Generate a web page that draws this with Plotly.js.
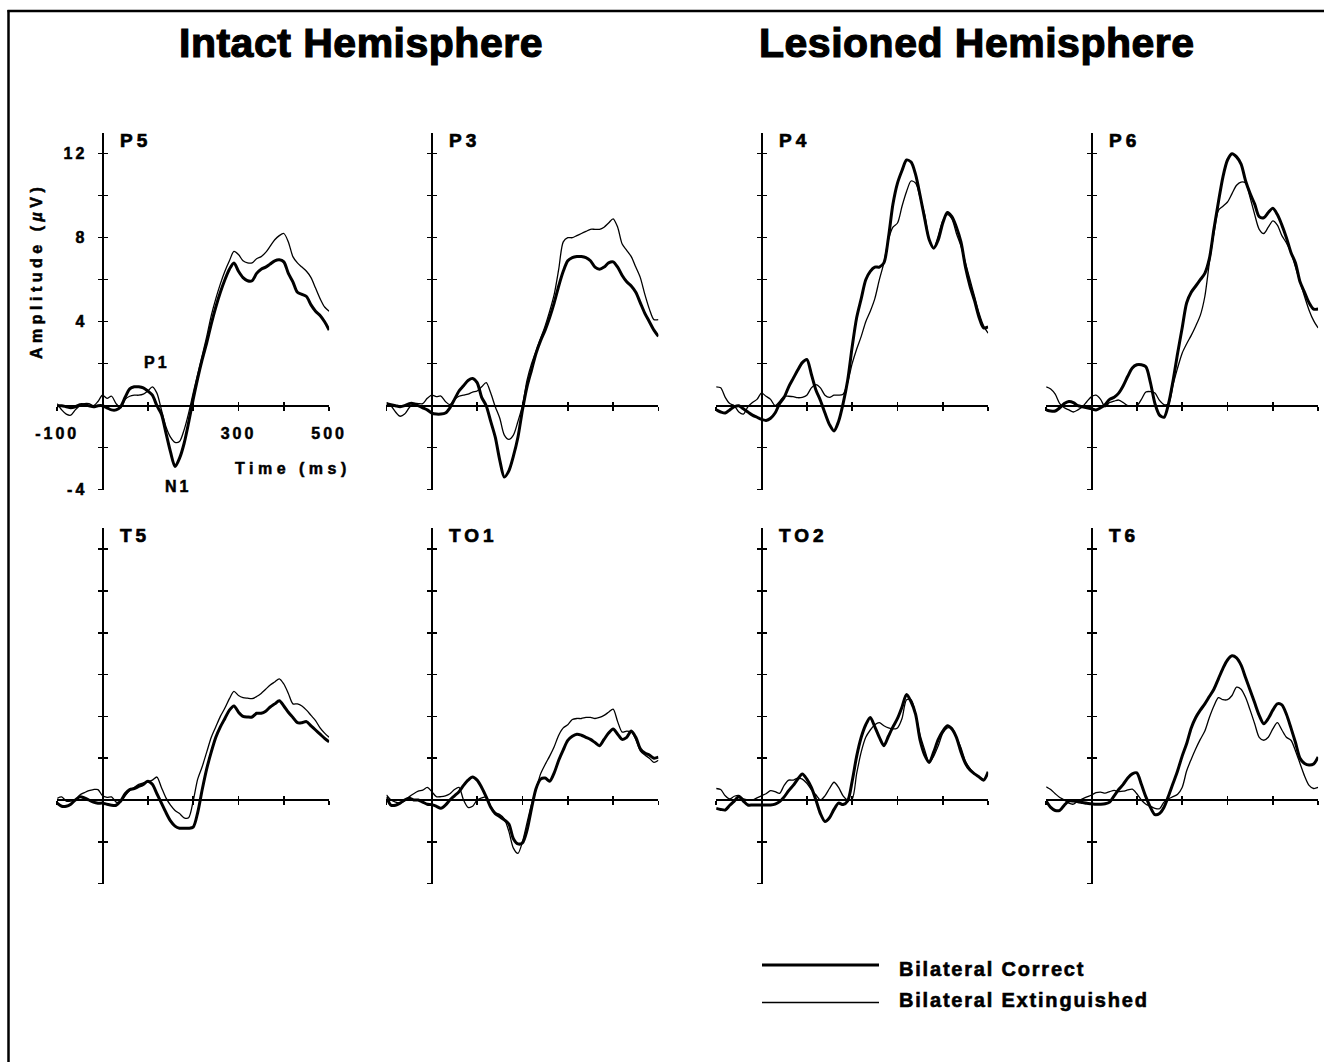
<!DOCTYPE html>
<html>
<head>
<meta charset="utf-8">
<script src="https://cdn.plot.ly/plotly-3.0.1.min.js"></script>
<style>html,body{margin:0;padding:0;background:#fff;}</style>
</head>
<body>
<div id="chart" style="width:1324px;height:1062px;"></div>
<script>
// ---------------- DATA ----------------
const timeMs = [-100,-90,-80,-70,-60,-50,-40,-30,-20,-10,
  0,10,20,30,40,50,60,70,80,90,
  100,110,120,130,140,150,160,170,180,190,
  200,210,220,230,240,250,260,270,280,290,
  300,310,320,330,340,350,360,370,380,390,
  400,410,420,430,440,450,460,470,480,490,500];

const seriesNames = ['Bilateral Correct', 'Bilateral Extinguished'];
const hemisphereTitles = ['Intact Hemisphere', 'Lesioned Hemisphere'];
const channelNames = ['P5', 'P3', 'P4', 'P6', 'T5', 'TO1', 'TO2', 'T6'];

const xTickVals = [-100, 100, 200, 300, 400, 500];
const xTickLabels = ['-100', '', '', '300', '', '500'];
const yTickVals = [-4, -2, 2, 4, 6, 8, 10, 12];
const yTickLabels = ['-4', '', '', '4', '', '8', '', '12'];

const p5Correct = [0.0,0.0,-0.05,-0.1,-0.05,0.05,0.05,0.0,-0.05,0.0,
  0.0,-0.1,-0.2,-0.2,-0.05,0.4,0.8,0.9,0.9,0.85,
  0.7,0.5,0.0,-0.4,-1.3,-2.2,-2.9,-2.5,-1.8,-0.8,
  0.3,1.3,2.2,3.0,3.9,4.7,5.4,6.0,6.5,6.8,
  6.4,6.1,5.95,5.95,6.3,6.5,6.6,6.75,6.9,6.95,
  6.85,6.3,5.9,5.4,5.3,5.2,4.8,4.5,4.3,4.0,3.6];
const p5Extinguished = [0.1,-0.2,-0.4,-0.45,-0.2,0.0,0.1,0.1,0.0,0.2,
  0.5,0.35,0.45,0.1,-0.1,0.3,0.45,0.5,0.5,0.55,
  0.7,0.9,0.6,-0.2,-1.0,-1.5,-1.75,-1.7,-1.15,-0.35,
  0.6,1.5,2.4,3.3,4.3,5.1,5.8,6.4,6.9,7.35,
  7.2,6.9,6.8,6.8,7.0,7.1,7.3,7.6,7.9,8.1,
  8.2,7.8,7.1,6.8,6.6,6.4,6.1,5.6,5.1,4.7,4.5];

const p3Correct = [0.1,0.05,0.0,-0.05,0.0,0.1,0.1,0.0,-0.1,-0.2,
  -0.35,-0.4,-0.4,-0.35,-0.1,0.3,0.7,0.95,1.2,1.3,
  1.1,0.4,0.0,-0.75,-1.5,-2.6,-3.4,-3.1,-2.4,-1.5,
  -0.2,0.9,1.7,2.5,3.1,3.6,4.2,4.9,5.7,6.4,
  6.9,7.05,7.1,7.1,7.05,6.9,6.6,6.5,6.6,6.8,
  6.85,6.6,6.2,5.9,5.7,5.4,4.9,4.4,4.0,3.6,3.3];
const p3Extinguished = [0.15,0.0,-0.3,-0.5,-0.4,-0.1,0.1,0.1,0.1,0.35,
  0.5,0.43,0.46,0.2,0.05,0.3,0.45,0.5,0.55,0.65,
  0.7,0.9,1.1,0.6,-0.05,-0.6,-1.4,-1.6,-1.4,-0.75,
  0.0,1.2,2.0,2.6,3.2,3.8,4.5,5.3,6.5,7.8,
  8.0,8.0,8.1,8.2,8.3,8.4,8.4,8.4,8.5,8.7,
  8.9,8.5,7.7,7.4,7.1,6.6,6.1,5.3,4.6,4.1,4.1];

const p4Correct = [-0.2,-0.3,-0.35,-0.2,-0.05,0.0,-0.15,-0.3,-0.45,-0.55,
  -0.65,-0.7,-0.6,-0.35,0.1,0.4,0.9,1.3,1.7,2.05,
  2.2,1.5,0.75,0.25,-0.35,-0.9,-1.2,-0.75,0.1,1.2,
  2.8,4.2,5.1,6.0,6.4,6.6,6.6,6.8,8.0,9.6,
  10.6,11.2,11.7,11.6,11.0,10.0,8.9,7.9,7.5,7.9,
  8.7,9.2,9.0,8.5,7.8,6.6,5.7,5.0,4.2,3.7,3.75];
const p4Extinguished = [0.9,0.85,0.4,0.1,0.0,-0.3,-0.4,-0.05,0.15,0.3,
  0.6,0.45,0.3,0.0,0.2,0.45,0.45,0.43,0.38,0.4,
  0.5,0.85,1.0,0.85,0.5,0.4,0.5,0.5,0.55,1.1,
  2.0,2.7,3.3,4.0,4.5,5.1,6.0,6.8,7.9,8.5,
  8.7,9.5,10.2,10.7,10.6,9.9,9.1,7.9,7.5,8.1,
  8.8,9.1,8.9,8.2,7.6,6.8,6.0,5.2,4.4,3.8,3.45];

const p6Correct = [-0.2,-0.25,-0.25,-0.1,0.1,0.2,0.15,0.0,-0.05,-0.1,
  -0.15,-0.2,-0.1,0.05,0.3,0.4,0.6,0.95,1.4,1.8,
  1.95,1.95,1.85,1.1,0.1,-0.45,-0.55,0.1,1.2,2.5,
  3.7,4.9,5.4,5.7,6.0,6.3,7.0,8.4,9.7,10.9,
  11.7,12.0,11.85,11.5,10.7,10.1,9.6,9.0,8.95,9.2,
  9.4,9.1,8.6,8.0,7.3,6.8,5.9,5.4,4.9,4.6,4.6];
const p6Extinguished = [0.9,0.8,0.55,0.1,-0.1,-0.2,-0.3,-0.2,-0.05,0.2,
  0.43,0.5,0.3,-0.05,0.15,0.22,0.27,0.15,0.0,0.0,
  0.0,0.3,0.65,0.67,0.6,0.25,0.05,0.1,1.0,1.8,
  2.5,2.95,3.35,3.8,4.3,5.2,6.8,8.2,9.3,9.5,
  9.7,10.1,10.5,10.65,10.6,9.9,9.1,8.4,8.2,8.5,
  8.8,8.6,8.1,7.75,7.3,6.6,5.9,5.2,4.55,4.05,3.7];

const t5Correct = [-0.15,-0.3,-0.3,-0.2,0.0,0.15,0.1,0.0,-0.1,-0.15,
  -0.15,-0.2,-0.25,-0.25,-0.05,0.3,0.5,0.55,0.65,0.75,
  0.9,0.75,0.3,-0.15,-0.6,-1.0,-1.25,-1.35,-1.35,-1.35,
  -1.3,-0.6,0.5,1.5,2.3,3.0,3.5,3.9,4.3,4.5,
  4.2,4.0,3.97,3.97,4.15,4.15,4.25,4.45,4.6,4.75,
  4.5,4.2,3.95,3.7,3.7,3.75,3.55,3.35,3.15,2.95,2.78];
const t5Extinguished = [0.08,0.15,-0.05,-0.05,0.0,0.24,0.35,0.45,0.5,0.5,
  0.2,0.13,0.15,-0.1,-0.1,0.2,0.45,0.6,0.75,0.82,
  0.87,0.95,1.1,0.6,0.1,-0.25,-0.5,-0.65,-0.85,-0.85,
  -0.05,1.0,1.6,2.3,3.0,3.5,4.0,4.4,4.85,5.2,
  5.0,4.9,4.87,4.85,4.95,5.1,5.3,5.5,5.65,5.8,
  5.55,5.1,4.6,4.6,4.5,4.3,4.05,3.8,3.45,3.2,3.0];

const to1Correct = [0.15,-0.25,-0.25,-0.15,0.0,0.08,0.0,0.0,-0.1,-0.2,
  -0.22,-0.3,-0.4,-0.25,0.0,0.2,0.4,0.7,0.95,1.1,
  0.95,0.6,0.15,-0.35,-0.65,-0.8,-0.95,-1.15,-1.85,-2.1,
  -2.05,-1.45,-0.4,0.55,1.0,1.05,0.9,1.3,1.9,2.4,
  2.85,3.05,3.15,3.1,3.0,2.9,2.75,2.6,2.9,3.2,
  3.4,3.15,2.9,3.0,3.3,3.0,2.45,2.25,2.15,2.0,2.05];
const to1Extinguished = [0.24,0.0,-0.1,-0.15,-0.05,0.15,0.3,0.42,0.47,0.6,
  0.4,0.16,0.16,0.2,0.3,0.5,0.6,0.0,-0.35,-0.3,
  0.0,0.1,0.15,-0.3,-0.6,-0.7,-0.9,-1.5,-2.3,-2.55,
  -2.0,-1.1,-0.2,0.5,1.25,1.7,2.1,2.55,3.1,3.45,
  3.6,3.85,3.9,3.9,3.95,3.95,3.9,3.95,4.05,4.2,
  4.35,3.75,3.25,3.3,3.25,2.9,2.35,2.15,2.0,1.8,1.9];

const to2Correct = [-0.4,-0.45,-0.48,-0.25,-0.05,0.15,-0.05,-0.24,-0.24,-0.24,
  -0.24,-0.24,-0.24,-0.2,-0.08,0.15,0.45,0.7,1.0,1.25,
  1.0,0.6,0.0,-0.65,-1.03,-0.85,-0.45,-0.15,-0.22,-0.05,
  0.9,2.1,3.0,3.6,3.95,3.5,3.0,2.6,3.05,3.5,
  3.9,4.45,5.05,4.7,4.1,2.85,2.15,1.8,2.3,2.9,
  3.3,3.55,3.4,3.0,2.3,1.75,1.43,1.25,1.1,0.95,1.35];
const to2Extinguished = [0.55,0.5,0.2,0.05,0.18,0.22,0.05,0.0,0.0,0.1,
  0.2,0.3,0.45,0.4,0.32,0.7,0.95,0.95,1.05,1.0,
  0.8,0.5,0.25,0.0,0.2,0.55,0.85,0.6,0.2,0.0,
  0.05,1.27,2.3,3.0,3.35,3.6,3.7,3.55,3.45,3.4,
  3.45,3.9,4.8,4.8,4.1,3.1,2.4,1.8,2.1,2.6,
  3.2,3.45,3.45,3.0,2.5,1.85,1.5,1.25,1.1,0.98,1.27];

const t6Correct = [-0.05,-0.35,-0.5,-0.5,-0.25,-0.05,-0.05,-0.08,-0.12,-0.16,
  -0.18,-0.2,-0.2,-0.18,-0.1,0.2,0.5,0.75,1.05,1.25,
  1.3,0.75,0.15,-0.35,-0.7,-0.65,-0.35,0.2,0.8,1.4,
  2.1,2.7,3.45,3.95,4.3,4.6,4.95,5.3,5.8,6.3,
  6.7,6.9,6.8,6.45,5.85,5.25,4.65,4.05,3.65,3.9,
  4.3,4.6,4.55,4.1,3.45,2.75,2.0,1.75,1.67,1.72,2.06];
const t6Extinguished = [0.63,0.5,0.3,0.12,0.0,-0.15,-0.2,-0.05,0.05,0.15,
  0.24,0.35,0.38,0.33,0.4,0.46,0.4,0.42,0.48,0.52,
  0.3,0.0,-0.2,-0.3,-0.4,-0.42,-0.1,0.05,0.16,0.28,
  0.6,1.4,1.95,2.45,2.9,3.3,3.95,4.5,4.9,4.8,
  4.8,5.0,5.4,5.3,4.9,4.3,3.65,3.0,2.86,3.0,
  3.4,3.7,3.35,3.0,2.86,2.35,1.75,1.15,0.7,0.55,0.6];

// ---------------- LAYOUT ----------------
const W = 1324, H = 1062;
const FONT = 'Liberation Sans, Arial, Helvetica, sans-serif';
const colZeroPx = [102.5, 431.8, 761.5, 1091.5];
const rowZeroPx = [405.7, 800];
const pxPerMs = 0.4533;
const pxPerUv = [21, 20.9];
const xRange = [-100, 500];
const yRange = [-4, 13];

const panels = [
  [p5Correct, p5Extinguished], [p3Correct, p3Extinguished],
  [p4Correct, p4Extinguished], [p6Correct, p6Extinguished],
  [t5Correct, t5Extinguished], [to1Correct, to1Extinguished],
  [to2Correct, to2Extinguished], [t6Correct, t6Extinguished]
];

// heavy lettering helper: letter spacing plus a thin stroke to mimic the black typeface
const sp = (txt, ls, sw) => '<span style="letter-spacing:' + ls + 'px;stroke:#000;stroke-width:' +
  (sw === undefined ? 0.5 : sw) + 'px">' + txt + '</span>';

const traces = [];
const layout = {
  width: W, height: H, autosize: false,
  margin: {l: 0, r: 0, t: 0, b: 0, pad: 0},
  paper_bgcolor: '#ffffff', plot_bgcolor: 'rgba(0,0,0,0)',
  showlegend: false,
  font: {family: FONT, color: '#000'},
  shapes: [], annotations: []
};

panels.forEach((pair, k) => {
  const r = Math.floor(k / 4), c = k % 4;
  const x0 = colZeroPx[c], y0 = rowZeroPx[r];
  const L = x0 + xRange[0] * pxPerMs, R = x0 + xRange[1] * pxPerMs;
  const T = y0 - yRange[1] * pxPerUv[r], B = y0 - yRange[0] * pxPerUv[r];
  const mainN = k + 1, ovN = k + 9;
  const mx = mainN === 1 ? 'x' : 'x' + mainN, my = mainN === 1 ? 'y' : 'y' + mainN;
  const mxKey = mainN === 1 ? 'xaxis' : 'xaxis' + mainN, myKey = mainN === 1 ? 'yaxis' : 'yaxis' + mainN;
  const ox = 'x' + ovN, oy = 'y' + ovN;
  const xPos = 1 - y0 / H, yPos = x0 / W;
  const labelled = (k === 0);

  const tickFont = {family: FONT, size: 16, color: '#000', weight: 'bold'};
  layout[mxKey] = {
    domain: [L / W, R / W], range: xRange, anchor: 'free', position: xPos,
    showline: true, linewidth: 2, linecolor: '#000', mirror: false,
    showgrid: false, zeroline: false,
    ticks: 'outside', ticklen: 4, tickwidth: 1.5, tickcolor: '#000',
    tickmode: 'array', tickvals: xTickVals,
    ticktext: xTickLabels.map(t => t ? sp(t, 3) : ''),
    showticklabels: labelled, tickfont: tickFont, ticklabelstandoff: 9,
    fixedrange: true
  };
  layout[myKey] = {
    domain: [1 - B / H, 1 - T / H], range: yRange, anchor: 'free', position: yPos,
    showline: true, linewidth: 2, linecolor: '#000',
    showgrid: false, zeroline: false,
    ticks: 'outside', ticklen: 4, tickwidth: 1.5, tickcolor: '#000',
    tickmode: 'array', tickvals: yTickVals,
    ticktext: yTickLabels.map(t => t ? sp(t, 3) : ''),
    showticklabels: labelled, tickfont: tickFont, ticklabelstandoff: 7,
    fixedrange: true
  };
  layout['xaxis' + ovN] = {
    overlaying: mx, range: xRange, anchor: 'free', position: xPos,
    showline: false, showgrid: false, zeroline: false,
    ticks: 'inside', ticklen: 4, tickwidth: 1.5, tickcolor: '#000',
    tickmode: 'array', tickvals: xTickVals.slice(1), showticklabels: false, fixedrange: true
  };
  layout['yaxis' + ovN] = {
    overlaying: my, range: yRange, anchor: 'free', position: yPos,
    showline: false, showgrid: false, zeroline: false,
    ticks: 'inside', ticklen: 4, tickwidth: 1.5, tickcolor: '#000',
    tickmode: 'array', tickvals: yTickVals, showticklabels: false, fixedrange: true
  };

  traces.push({
    type: 'scatter', mode: 'lines', name: seriesNames[0],
    x: timeMs, y: pair[0], xaxis: mx, yaxis: my,
    line: {color: '#000', width: 3, shape: 'spline', smoothing: 0.8},
    cliponaxis: false, hoverinfo: 'skip'
  });
  traces.push({
    type: 'scatter', mode: 'lines', name: seriesNames[1],
    x: timeMs, y: pair[1], xaxis: ox, yaxis: oy,
    line: {color: '#000', width: 1.3, shape: 'spline', smoothing: 0.8},
    cliponaxis: false, hoverinfo: 'skip'
  });

  // channel label
  layout.annotations.push({
    xref: mx, yref: my, x: 34, y: 12.65, xanchor: 'left', yanchor: 'middle',
    text: sp('<b>' + channelNames[k] + '</b>', 4, 0.7), showarrow: false,
    font: {family: FONT, size: 19, color: '#000'}
  });
});

// P5 axis annotations
layout.annotations.push(
  {xref: 'x', yref: 'y', x: 120, y: 2.05, text: sp('<b>P1</b>', 3), showarrow: false,
   xanchor: 'center', yanchor: 'middle', font: {family: FONT, size: 16, color: '#000'}},
  {xref: 'x', yref: 'y', x: 167, y: -3.87, text: sp('<b>N1</b>', 3), showarrow: false,
   xanchor: 'center', yanchor: 'middle', font: {family: FONT, size: 16, color: '#000'}},
  {xref: 'x', yref: 'y', x: 420, y: -2.97, text: sp('<b>Time (ms)</b>', 4.5), showarrow: false,
   xanchor: 'center', yanchor: 'middle', font: {family: FONT, size: 16, color: '#000'}},
  {xref: 'paper', yref: 'paper', x: 36 / W, y: 1 - 271 / H, textangle: -90,
   text: sp('<b>Amplitude (<i>µ</i>V)</b>', 4.5), showarrow: false,
   xanchor: 'center', yanchor: 'middle', font: {family: FONT, size: 16, color: '#000'}}
);

// hemisphere titles
[[361, 43], [977, 43]].forEach((p, i) => {
  layout.annotations.push({
    xref: 'paper', yref: 'paper', x: p[0] / W, y: 1 - p[1] / H,
    xanchor: 'center', yanchor: 'middle', showarrow: false,
    text: sp('<b>' + hemisphereTitles[i] + '</b>', 0.5, 1.2),
    font: {family: FONT, size: 41, color: '#000'}
  });
});

// legend (drawn manually to match the long line samples)
const legendRows = [{y: 965, w: 3}, {y: 1002.5, w: 1.3}];
const legendTextY = [969, 1000];
legendRows.forEach((row, i) => {
  layout.shapes.push({
    type: 'line', xref: 'paper', yref: 'paper',
    x0: 762 / W, x1: 879 / W, y0: 1 - row.y / H, y1: 1 - row.y / H,
    line: {color: '#000', width: row.w}
  });
  layout.annotations.push({
    xref: 'paper', yref: 'paper', x: 897 / W, y: 1 - legendTextY[i] / H,
    xanchor: 'left', yanchor: 'middle', showarrow: false,
    text: sp('<b>' + seriesNames[i] + '</b>', 1.8, 0.6),
    font: {family: FONT, size: 20, color: '#000'}
  });
});

// figure frame (top and left rules)
layout.shapes.push(
  {type: 'line', xref: 'paper', yref: 'paper', x0: 8.5 / W, x1: 8.5 / W, y0: 1 - 10 / H, y1: 0,
   line: {color: '#000', width: 2.5}},
  {type: 'line', xref: 'paper', yref: 'paper', x0: 7.5 / W, x1: 1, y0: 1 - 11 / H, y1: 1 - 11 / H,
   line: {color: '#000', width: 2.5}}
);

Plotly.newPlot('chart', traces, layout, {displayModeBar: false, staticPlot: true});
</script>
</body>
</html>
